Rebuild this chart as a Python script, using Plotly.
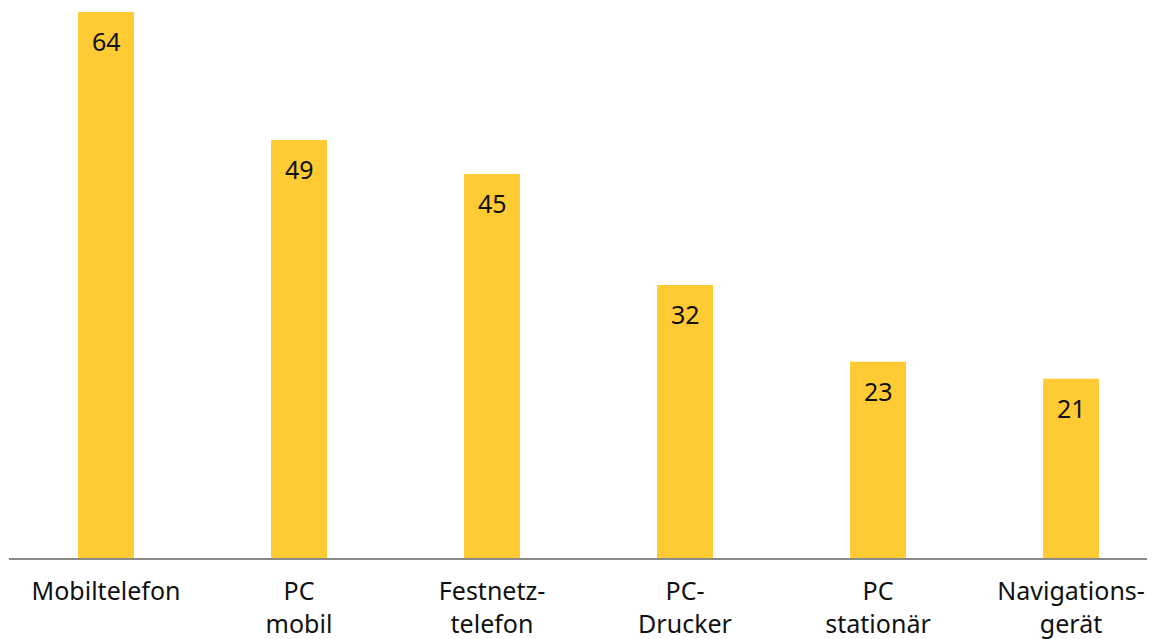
import plotly.graph_objects as go

categories = ["Mobiltelefon", "PC<br>mobil", "Festnetz-<br>telefon", "PC-<br>Drucker", "PC<br>stationär", "Navigations-<br>gerät"]
values = [64, 49, 45, 32, 23, 21]

FONT = "Noto Sans"
fig = go.Figure(go.Bar(
    x=list(range(len(categories))), y=values,
    marker=dict(color="#FFCB35", line=dict(width=0)),
    width=0.29, hoverinfo="skip",
))
for i, v in enumerate(values):
    fig.add_annotation(x=i, y=v, text=str(v), showarrow=False, yanchor="top",
                       yshift=-10, font=dict(family=FONT, size=25, color="#111111"))

fig.update_layout(
    width=1147, height=631,
    margin=dict(l=1, r=0, t=4, b=81),
    paper_bgcolor="white", plot_bgcolor="white",
    showlegend=False,
    font=dict(family=FONT, size=25, color="#111111"),
    xaxis=dict(range=[-0.5026, 5.435], tickmode="array", tickvals=list(range(len(categories))),
               ticktext=categories, showgrid=False, zeroline=False,
               showline=True, linecolor="#8a8a8a", linewidth=2,
               ticks="", ticklabelstandoff=10, tickfont=dict(family=FONT, size=25, color="#111111")),
    yaxis=dict(range=[0, 64], visible=False, showgrid=False, zeroline=False),
)
fig.write_html("out.html")
